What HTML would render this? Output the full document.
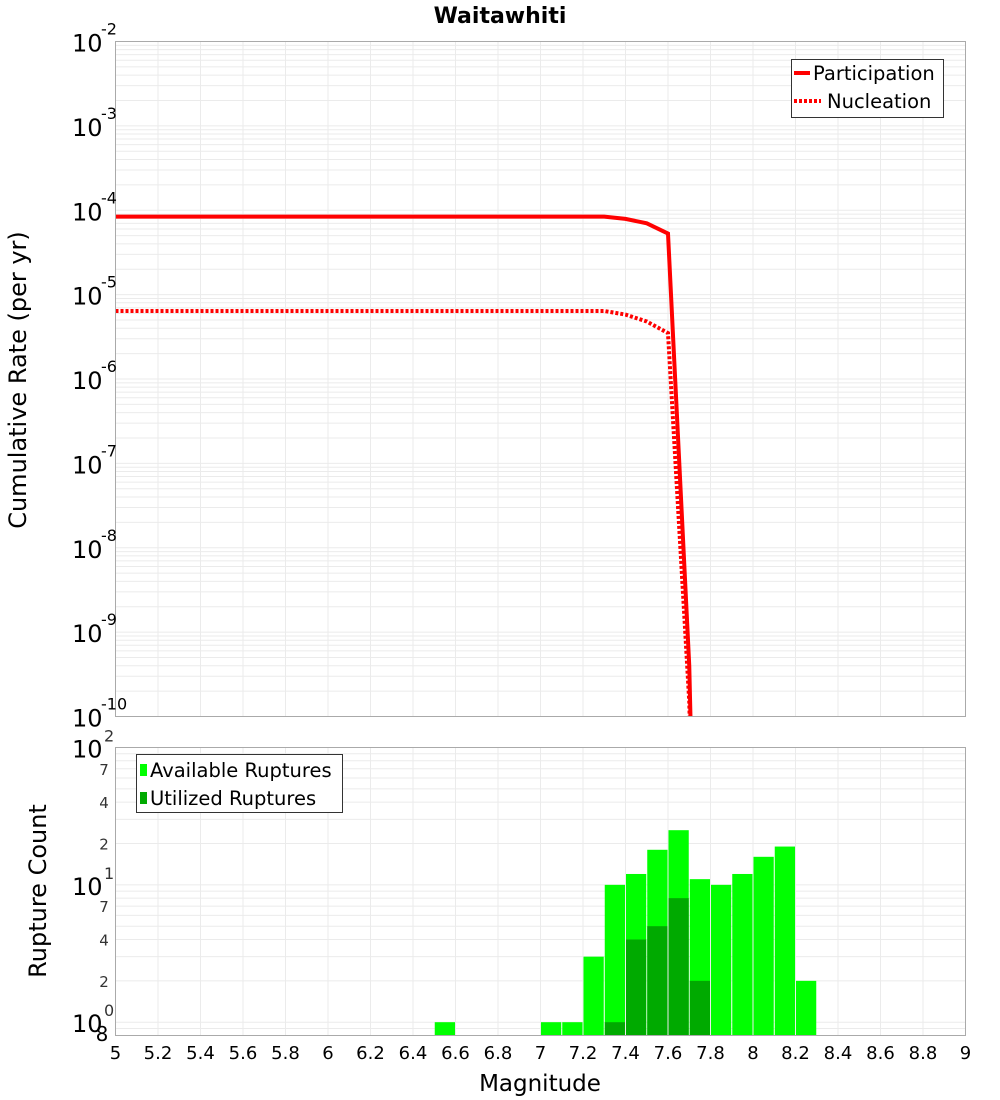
<!DOCTYPE html>
<html><head><meta charset="utf-8"><style>
html,body{margin:0;padding:0;background:#fff;overflow:hidden}
svg{display:block;font-family:"DejaVu Sans","Liberation Sans",sans-serif}
</style></head><body>
<svg id="c" width="1000" height="1100" viewBox="0 0 1000 1100" xmlns="http://www.w3.org/2000/svg">
<text x="500" y="23" text-anchor="middle" font-weight="bold" font-size="22">Waitawhiti</text>
<g id="topGrid"></g><g id="botGrid"></g><g id="bars"></g><g id="lines"></g><g id="axes"></g>
<text transform="translate(26,380) rotate(-90)" text-anchor="middle" font-size="24">Cumulative Rate (per yr)</text>
<text transform="translate(46,891) rotate(-90)" text-anchor="middle" font-size="24">Rupture Count</text>
<text x="540" y="1091" text-anchor="middle" font-size="23">Magnitude</text>
<g>
<rect x="791.5" y="59.5" width="152" height="58" fill="#fff" stroke="#333"/>
<line x1="794" y1="73" x2="810" y2="73" stroke="red" stroke-width="4"/>
<text x="813" y="80" font-size="19.5">Participation</text>
<line x1="794" y1="101" x2="821" y2="101" stroke="red" stroke-width="4" stroke-dasharray="3,2"/>
<text x="827" y="108" font-size="19.5">Nucleation</text>
</g>
<g>
<rect x="136.5" y="754.5" width="206" height="58" fill="#fff" stroke="#333"/>
<rect x="140" y="764" width="7" height="12" fill="#00ff00"/>
<text x="150" y="777" font-size="19.5">Available Ruptures</text>
<rect x="140" y="792" width="7" height="12" fill="#00aa00"/>
<text x="150" y="805" font-size="19.5">Utilized Ruptures</text>
</g>
</svg>
<script>
const mags=[5.0,5.1,5.2,5.3,5.4,5.5,5.6,5.7,5.8,5.9,6.0,6.1,6.2,6.3,6.4,6.5,6.6,6.7,6.8,6.9,7.0,7.1,7.2,7.3,7.4,7.5,7.6,7.7,7.8];
const participation=[8.4e-5,8.4e-5,8.4e-5,8.4e-5,8.4e-5,8.4e-5,8.4e-5,8.4e-5,8.4e-5,8.4e-5,8.4e-5,8.4e-5,8.4e-5,8.4e-5,8.4e-5,8.4e-5,8.4e-5,8.4e-5,8.4e-5,8.4e-5,8.4e-5,8.4e-5,8.4e-5,8.4e-5,7.9e-5,7.0e-5,5.3e-5,4e-10,1e-20];
const nucleation=[6.4e-6,6.4e-6,6.4e-6,6.4e-6,6.4e-6,6.4e-6,6.4e-6,6.4e-6,6.4e-6,6.4e-6,6.4e-6,6.4e-6,6.4e-6,6.4e-6,6.4e-6,6.4e-6,6.4e-6,6.4e-6,6.4e-6,6.4e-6,6.4e-6,6.4e-6,6.4e-6,6.4e-6,5.8e-6,4.8e-6,3.5e-6,1.5e-10,1e-20];
const binStarts=[6.5,7.0,7.1,7.2,7.3,7.4,7.5,7.6,7.7,7.8,7.9,8.0,8.1,8.2];
const available=[1,1,1,3,10,12,18,25,11,10,12,16,19,2];
const utilized=[0,0,0,0,1,4,5,8,2,0,0,0,0,0];
const xTicks=[5,5.2,5.4,5.6,5.8,6,6.2,6.4,6.6,6.8,7,7.2,7.4,7.6,7.8,8,8.2,8.4,8.6,8.8,9];
const topExps=[-2,-3,-4,-5,-6,-7,-8,-9,-10];

const NS='http://www.w3.org/2000/svg';
const L=115.5,R=965.5,T1=41.5,B1=716.5,T2=747.5,B2=1035.5;
const X=m=>L+(m-5)/4*(R-L);
const Y1=v=>T1+(-2-Math.log10(v))/8*(B1-T1);
const lo=Math.log10(0.8),hi=Math.log10(100);
const Y2=v=>T2+(hi-Math.log10(v))/(hi-lo)*(B2-T2);
function mk(tag,at,parent){const e=document.createElementNS(NS,tag);for(const k in at)e.setAttribute(k,at[k]);(typeof parent==='string'?document.getElementById(parent):parent).appendChild(e);return e;}
for(let d=-10;d<-2;d++)for(let k=1;k<10;k++){if(k==1&&d==-10)continue;const y=Y1(k*Math.pow(10,d));
 const g=mk('line',{x1:L,x2:R,y1:y,y2:y,stroke:'#ebebeb','stroke-width':1},'topGrid');
 
 }
xTicks.forEach(t=>{const g=mk('line',{x1:X(t),x2:X(t),y1:T1,y2:B1,stroke:'#ebebeb'},'topGrid');
 
 
 const h=mk('line',{x1:X(t),x2:X(t),y1:T2,y2:B2,stroke:'#ebebeb'},'botGrid');
 
 });
for(let d=-1;d<2;d++)for(let k=1;k<10;k++){const v=k*Math.pow(10,d);if(v<0.8||v>100)continue;const y=Y2(v);
 const g=mk('line',{x1:L,x2:R,y1:y,y2:y,stroke:'#ebebeb'},'botGrid');
 
 }
binStarts.forEach((b,i)=>{const x0=X(b),x1=X(b+0.1);
 const r=mk('rect',{x:x0+0.5,y:Y2(available[i]),width:x1-x0-1,height:B2-Y2(available[i]),fill:'#00ff00'},'bars');
 
 
 if(utilized[i]>0){const u=mk('rect',{x:x0+0.5,y:Y2(utilized[i]),width:x1-x0-1,height:B2-Y2(utilized[i]),fill:'#00aa00'},'bars');
 
 }});
const cp=mk('clipPath',{id:'cp'},'lines');
mk('rect',{x:L,y:T1,width:R-L,height:B1-T1},cp);
const pp=mk('polyline',{points:mags.map((m,i)=>X(m)+','+Y1(participation[i])).join(' '),fill:'none',stroke:'red','stroke-width':4,'clip-path':'url(#cp)'},'lines');


const np=mk('polyline',{points:mags.map((m,i)=>X(m)+','+Y1(nucleation[i])).join(' '),fill:'none',stroke:'red','stroke-width':4,'stroke-dasharray':'3,2','clip-path':'url(#cp)'},'lines');


const f1=mk('rect',{x:L,y:T1,width:R-L,height:B1-T1,fill:'none',stroke:'#aaa'},'axes');


const f2=mk('rect',{x:L,y:T2,width:R-L,height:B2-T2,fill:'none',stroke:'#aaa'},'axes');


topExps.forEach(e=>{const y=Y1(Math.pow(10,e));
 const t=mk('text',{x:72,y:y+10,'font-size':24},'axes');t.textContent='10';
 
 
 const s=mk('text',{x:101,y:y-7,'font-size':16},'axes');s.textContent=String(e);
 
 });
[[100,'2'],[10,'1'],[1,'0']].forEach(([v,e])=>{const y=Y2(v);
 const t=mk('text',{x:72,y:y+10,'font-size':24},'axes');t.textContent='10';
 
 
 const s=mk('text',{x:104,y:y-6,'font-size':16,fill:'#333'},'axes');s.textContent=e;
 
 });
[2,4,7,20,40,70].forEach(v=>{const t=mk('text',{x:104,y:Y2(v)+6,'font-size':15,fill:'#333','text-anchor':'middle'},'axes');
 t.textContent=String(v).charAt(0);
 
 });
const e8=mk('text',{x:102,y:1041,'font-size':20,'text-anchor':'middle'},'axes');e8.textContent='8';


xTicks.forEach(t=>{const s=mk('text',{x:X(t),y:1059,'font-size':18,'text-anchor':'middle'},'axes');
 s.textContent=String(Math.round(t*10)/10);
 
 });
</script>
</body></html>
